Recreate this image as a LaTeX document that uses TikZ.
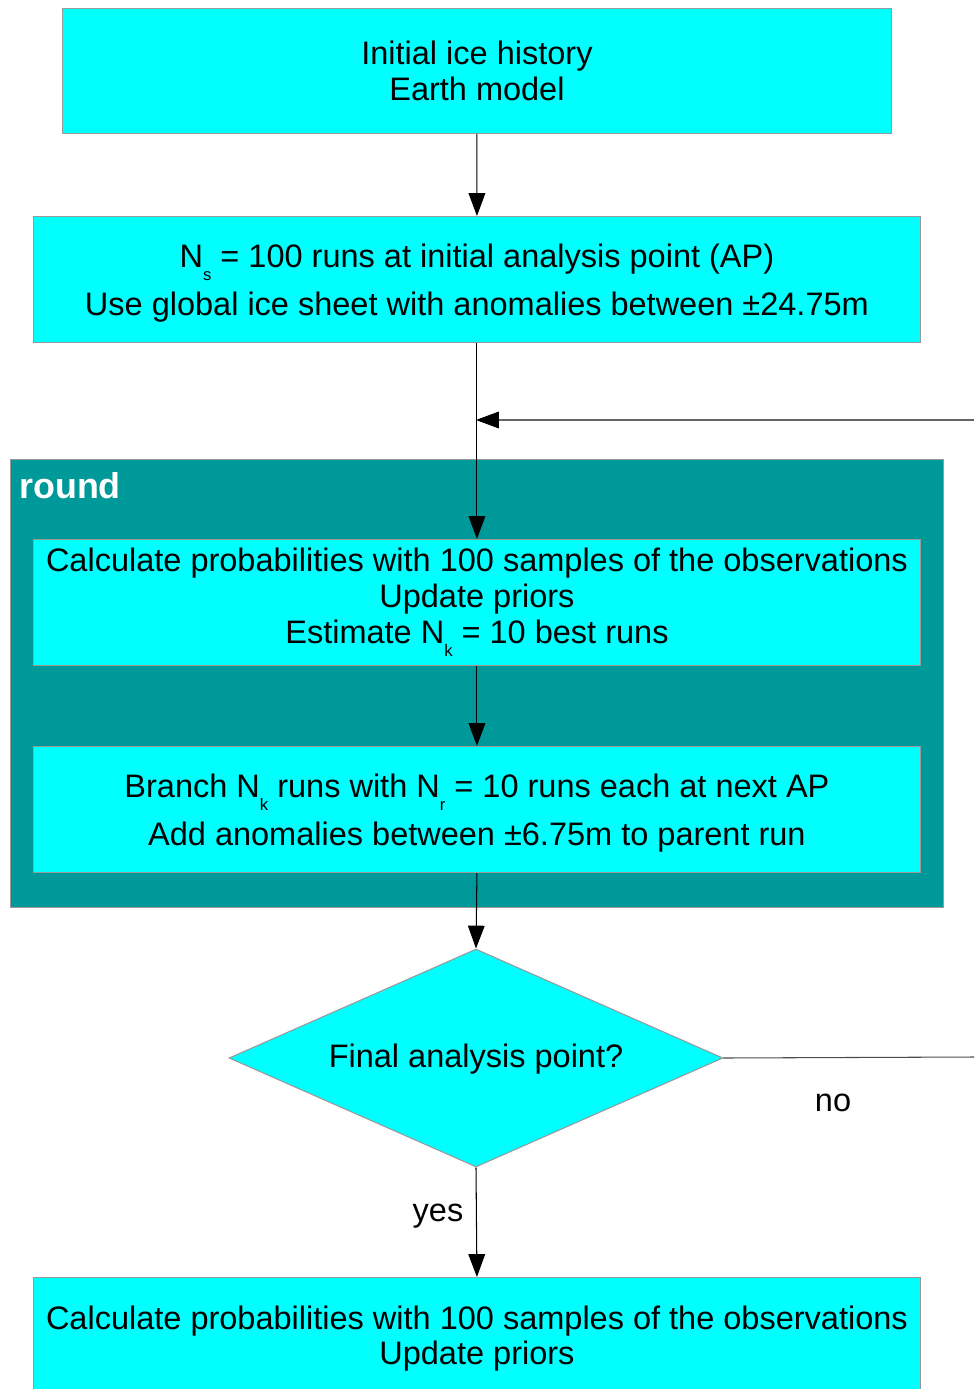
\documentclass[tikz,border=0pt]{standalone}
\usepackage{fontspec}
\setmainfont{Liberation Sans}
\usetikzlibrary{shapes.geometric,arrows.meta}
\definecolor{boxcyan}{HTML}{00FFFF}
\definecolor{roundteal}{HTML}{009999}
\definecolor{bordergray}{HTML}{999999}
\newcommand{\lowsub}[1]{\raisebox{-7.5pt}{\fontsize{9.5}{9.5}\selectfont #1}}
\newcommand{\tallstrut}{\rule{0pt}{17.4pt}}
\tikzset{
  flowbox/.style={draw=bordergray, line width=0.6pt, fill=boxcyan, rectangle, inner sep=0pt,
    align=center, font=\fontsize{18.5}{20.4}\selectfont, text=black},
  roundbox/.style={draw=bordergray, line width=0.6pt, fill=roundteal, rectangle, inner sep=0pt},
  flowarrow/.style={draw=black, line width=0.6pt, -{Triangle[length=13pt,width=9.5pt,color=black]}},
  flowline/.style={draw=black!70, line width=0.6pt},
  lbl/.style={font=\fontsize{18.5}{20.4}\selectfont, inner sep=0pt}
}
\begin{document}
\begin{tikzpicture}[x=0.02cm,y=-0.02cm]
\useasboundingbox (0,0) rectangle (974,1389);
% round container
\node[roundbox, minimum width=18.66cm, minimum height=8.96cm, anchor=north west] (round) at (10,459) {};
\node[anchor=base west, text=white, font=\fontsize{20.4}{22}\selectfont\bfseries, inner sep=0pt] (roundlbl) at (19,498) {round};
% boxes
\node[flowbox, minimum width=16.58cm, minimum height=2.5cm, anchor=north west] (b1) at (62,8)
  {Initial ice history\\Earth model};
\node[flowbox, minimum width=17.74cm, minimum height=2.52cm, anchor=north west] (b2) at (33,216)
  {\tallstrut N\lowsub{s} = 100 runs at initial analysis point (AP)\\[5.3pt]Use global ice sheet with anomalies between ±24.75m};
\node[flowbox, minimum width=17.74cm, minimum height=2.52cm, anchor=north west] (b3) at (33,539)
  {Calculate probabilities with 100 samples of the observations\\Update priors\\Estimate N\lowsub{k} = 10 best runs};
\node[flowbox, minimum width=17.74cm, minimum height=2.52cm, anchor=north west] (b4) at (33,746)
  {\tallstrut Branch N\lowsub{k} runs with N\lowsub{r} = 10 runs each at next AP\\[5.3pt]Add anomalies between ±6.75m to parent run};
\node[flowbox, diamond, aspect=2.266, minimum width=9.88cm, minimum height=4.36cm] (dia) at (476,1058)
  {\rule{0pt}{15pt}Final analysis point?};
\node[flowbox, minimum width=17.74cm, minimum height=2.52cm, anchor=north west] (b5) at (33,1277)
  {Calculate probabilities with 100 samples of the observations\\Update priors\rule[-6pt]{0pt}{0pt}};
% coordinates
\coordinate (join) at (476,420);
\coordinate (loopin) at (974,420);
\coordinate (loopout) at (974,1057);
% connectors
\draw[flowarrow] (b1.south) -- (b2.north);
\draw[flowarrow] (b2.south) -- (b3.north);
\draw[flowarrow, draw=black!60] (loopin) -- (join);
\draw[flowarrow] (b3.south) -- (b4.north);
\draw[flowarrow] (b4.south) -- (dia.north);
\draw[flowline] (dia.east) -- (loopout);
\draw[flowarrow] (dia.south) -- (b5.north);
% labels
\node[lbl] (nolbl) at (833,1103) {no};
\node[lbl] (yeslbl) at (438,1216) {yes};
\end{tikzpicture}
\end{document}
